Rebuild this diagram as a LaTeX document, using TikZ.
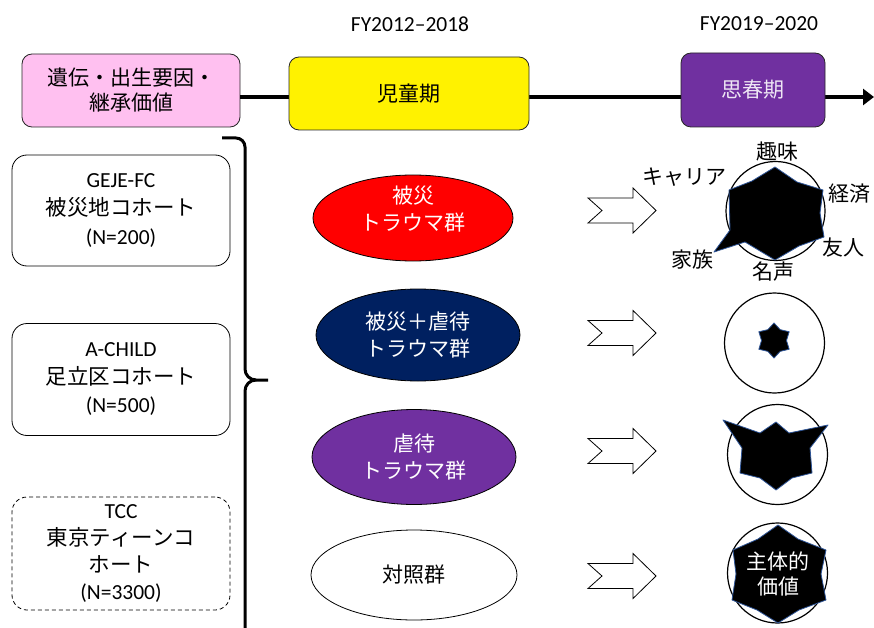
\documentclass[tikz,border=0pt]{standalone}
\usepackage{fontspec}
\setmainfont{Carlito}
\newfontfamily\cjk{Noto Sans CJK JP}
\usetikzlibrary{shapes.geometric,arrows.meta}
\definecolor{pinkbox}{HTML}{FFC0F0}
\definecolor{purplebox}{HTML}{7030A0}
\definecolor{navybox}{HTML}{002060}
\definecolor{starline}{HTML}{2F5597}
\begin{document}
\begin{tikzpicture}[x=1pt,y=-1pt,
  every node/.style={font=\fontsize{21.5}{28}\selectfont, align=center, inner sep=0pt},
  phase/.style={draw=black!85, rounded corners=10pt, line width=0.8pt},
  cohort/.style={draw=black, rounded corners=15pt, line width=0.8pt, minimum width=218pt},
  grp/.style={ellipse, draw=black, line width=0.8pt},
  grptext/.style={font=\fontsize{21}{27}\selectfont\cjk},
  blockarrow/.style={draw=black, fill=white, line width=0.8pt, line join=miter},
  radarcircle/.style={circle, draw=black, line width=1.2pt, minimum size=99pt},
  radarstar/.style={fill=black, draw=starline, line width=0.8pt, line join=round},
  lbl/.style={font=\fontsize{21}{26}\selectfont\cjk},
  timeline/.style={line width=4.5pt, -{Triangle[length=11pt,width=16pt]}},
  bracket/.style={line width=3pt, line cap=butt},
]
\useasboundingbox (0,0) rectangle (874,628);

% headers
\node (h1) at (410,24) {FY2012--2018};
\node (h2) at (759,24) {FY2019--2020};

% phase boxes and timeline
\node[phase, fill=pinkbox, minimum width=218pt, minimum height=73pt,
      font=\fontsize{21}{25}\selectfont\cjk] (pink) at (131,90.5) {遺伝・出生要因・\\継承価値};
\coordinate (tlend) at (874,97);
\draw[timeline] (tlend -| pink.east) -- (tlend);
\node[phase, fill=yellow, minimum width=240pt, minimum height=73pt, font=\fontsize{21}{25}\selectfont\cjk]
  (child) at (409,93.5) {児童期};
\node[phase, fill=purplebox, minimum width=144pt, minimum height=74pt, text=white!88!purplebox,
      font=\fontsize{21}{25}\selectfont\cjk] (adol) at (753,90) {思春期};

% cohorts
\node[cohort, minimum height=111pt, font=\fontsize{21.5}{28.5}\selectfont] (geje) at (121,210.5)
  {GEJE-FC\\{\cjk 被災地コホート}\\(N=200)};
\node[cohort, minimum height=112pt, font=\fontsize{21.5}{28}\selectfont] (achild) at (121,379.5)
  {A-CHILD\\{\cjk 足立区コホート}\\(N=500)};
\node[cohort, minimum height=113pt, dashed, dash pattern=on 4pt off 3pt,
      font=\fontsize{21.5}{27}\selectfont] (tcc) at (121,553.5)
  {TCC\\{\cjk 東京ティーンコ}\\{\cjk ホート}\\(N=3300)};

% bracket
\coordinate (brtop) at (222,138);
\coordinate (brtip) at (268,380);
\coordinate (brbot) at (245,628);
\draw[bracket] (brtop) -- ++(14,0) to[out=0,in=90] ++(9,9) -- (245,369)
  to[out=-90,in=180] (256,380) -- (brtip);
\draw[bracket] (256,380) to[out=180,in=90] (245,391) -- (brbot);

% groups
\node[grp, fill=red, minimum width=200pt, minimum height=86pt] (g1) at (413,218) {};
\node[grptext, text=white] (g1t) at (413,209) {被災\\トラウマ群};
\node[grp, fill=navybox, minimum width=204pt, minimum height=92pt, text=white,
      grptext] (g2) at (418,335) {被災＋虐待\\トラウマ群};
\node[grp, fill=purplebox, minimum width=204pt, minimum height=95pt, text=white,
      grptext] (g3) at (414,457) {虐待\\トラウマ群};
\node[grp, fill=white, minimum width=206pt, minimum height=90pt,
      grptext] (g4) at (414,575) {対照群};

% block arrows
\foreach \n/\yy in {a1/210.5, a2/333, a3/451, a4/576}{
  \coordinate (\n) at (622,\yy);
  \draw[blockarrow, shift={(\n)}] (-34,-12.5) -- (11,-12.5) -- (11,-22.5) -- (34,0)
    -- (11,22.5) -- (11,12.5) -- (-34,12.5) -- (-20,0) -- cycle;
}

% radar circles
\node[radarcircle] (c1) at (775.5,211) {};
\node[radarcircle, minimum size=100pt] (c2) at (774.5,343) {};
\node[radarcircle, minimum size=100pt] (c3) at (777.5,454.5) {};
\node[radarcircle, minimum size=100pt] (c4) at (777.5,573) {};

\begin{scope}[shift={(775,211)}, yscale=-1]
  \filldraw[radarstar] (0,44) -- (22,29) -- (48,21) -- (45,-2) -- (49,-26) -- (24,-35)
    -- (0,-49) -- (-30,-31) -- (-61,-41) -- (-45,-19) -- (-46,21) -- (-23,30) -- cycle;
\end{scope}
\begin{scope}[shift={(774,340.5)}, yscale=-1]
  \filldraw[radarstar] (90:17.5) -- (60:12.5) -- (30:17.5) -- (0:12.5) -- (-30:17.5)
    -- (-60:12.5) -- (-90:17.5) -- (-120:12.5) -- (-150:17.5) -- (180:12.5)
    -- (150:17.5) -- (120:12.5) -- cycle;
\end{scope}
\begin{scope}[shift={(776,456)}, yscale=-1]
  \filldraw[radarstar] (0,34) -- (13,23) -- (52,31) -- (34,8) -- (36,-17) -- (16,-22)
    -- (0,-34) -- (-16,-22) -- (-36,-17) -- (-34,8) -- (-53,36) -- (-16,23) -- cycle;
\end{scope}
\begin{scope}[shift={(778,574)}, yscale=-1]
  \filldraw[radarstar] (0,49) -- (20,35) -- (48,24) -- (43,0) -- (48,-26) -- (21,-36)
    -- (0,-49) -- (-21,-36) -- (-46,-26) -- (-42,0) -- (-45,24) -- (-20,35) -- cycle;
\end{scope}
\node[text=white, font=\fontsize{21}{25}\selectfont\cjk] (val) at (778,574) {主体的\\価値};

% radar labels
\node[lbl] (l1) at (777,152) {趣味};
\node[lbl] (l2) at (849,194) {経済};
\node[lbl] (l3) at (843,248) {友人};
\node[lbl] (l4) at (773,272) {名声};
\node[lbl] (l5) at (692,260) {家族};
\node[lbl] (l6) at (684,177) {キャリア};
\end{tikzpicture}
\end{document}
